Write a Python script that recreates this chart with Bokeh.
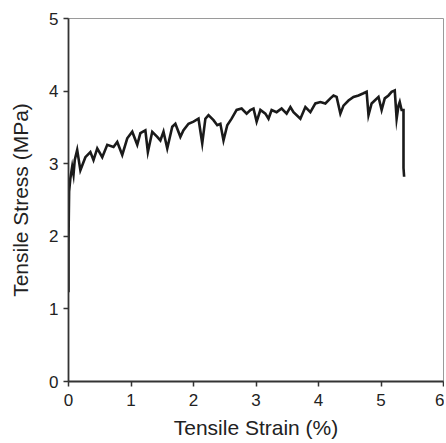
from bokeh.plotting import figure
from bokeh.models import Range1d, FixedTicker
from bokeh.embed import file_html
from bokeh.resources import INLINE

# Tensile strain (%) and tensile stress (MPa)
strain = [0.0, 0.0, 0.005, 0.01, 0.03, 0.059, 0.08, 0.10, 0.139, 0.19, 0.27, 0.35, 0.40,
          0.46, 0.54, 0.62, 0.72, 0.78, 0.86, 0.94, 1.02, 1.10, 1.15, 1.23, 1.27,
          1.34, 1.42, 1.47, 1.52, 1.58, 1.66, 1.71, 1.79, 1.84, 1.92, 2.00, 2.08,
          2.14, 2.19, 2.24, 2.32, 2.38, 2.43, 2.48, 2.54, 2.61, 2.69, 2.77, 2.85,
          2.91, 2.96, 3.01, 3.07, 3.15, 3.20, 3.25, 3.33, 3.41, 3.49, 3.55, 3.60,
          3.71, 3.79, 3.87, 3.95, 4.03, 4.11, 4.19, 4.24, 4.29, 4.35, 4.40, 4.48,
          4.56, 4.64, 4.72, 4.77, 4.80, 4.85, 4.90, 4.96, 5.01, 5.06, 5.12, 5.17,
          5.22, 5.25, 5.28, 5.30, 5.33, 5.36, 5.36, 5.37]
stress = [1.23, 1.90, 2.30, 2.62, 2.80, 2.96, 2.85, 3.05, 3.19, 2.91, 3.09, 3.16, 3.05,
          3.21, 3.09, 3.26, 3.23, 3.30, 3.12, 3.35, 3.44, 3.26, 3.42, 3.46, 3.16,
          3.44, 3.37, 3.32, 3.44, 3.21, 3.51, 3.55, 3.37, 3.46, 3.55, 3.58, 3.62,
          3.28, 3.62, 3.67, 3.60, 3.53, 3.55, 3.32, 3.53, 3.62, 3.74, 3.76, 3.69,
          3.74, 3.76, 3.58, 3.74, 3.69, 3.62, 3.74, 3.71, 3.76, 3.69, 3.78, 3.71,
          3.62, 3.78, 3.71, 3.83, 3.85, 3.83, 3.90, 3.94, 3.92, 3.69, 3.80, 3.87,
          3.92, 3.94, 3.97, 3.99, 3.67, 3.83, 3.87, 3.92, 3.74, 3.90, 3.94, 3.99,
          4.01, 3.62, 3.80, 3.85, 3.74, 3.74, 2.94, 2.82]

x_ticks = [0, 1, 2, 3, 4, 5, 6]
y_ticks = [0, 1, 2, 3, 4, 5]

p = figure(width=444, height=441, output_backend="svg", toolbar_location=None,
           x_range=Range1d(0, 6), y_range=Range1d(0, 5),
           min_border_left=68, min_border_right=1, min_border_top=18, min_border_bottom=59)

p.line(strain, stress, line_color="#1a1a1a", line_width=2.6, line_join="miter")

p.xgrid.visible = False
p.ygrid.visible = False
p.outline_line_color = "#9a9a9a"
p.outline_line_width = 1

for ax in (p.xaxis[0], p.yaxis[0]):
    ax.axis_line_color = "#333333"
    ax.axis_line_width = 1.8
    ax.major_tick_line_color = "#333333"
    ax.major_tick_line_width = 1.5
    ax.major_tick_out = 5
    ax.major_tick_in = 0
    ax.minor_tick_line_color = None
    ax.major_label_text_font = "Liberation Sans"
    ax.major_label_text_font_size = "17px"
    ax.major_label_text_color = "#222222"
    ax.axis_label_text_font = "Liberation Sans"
    ax.axis_label_text_font_size = "21px"
    ax.axis_label_text_font_style = "normal"
    ax.axis_label_text_color = "#222222"

p.xaxis[0].ticker = FixedTicker(ticks=x_ticks)
p.yaxis[0].ticker = FixedTicker(ticks=y_ticks)
p.xaxis[0].axis_label = "Tensile Strain (%)"
p.yaxis[0].axis_label = "Tensile Stress (MPa)"
p.xaxis[0].major_label_standoff = 7
p.xaxis[0].axis_label_standoff = 7
p.yaxis[0].major_label_standoff = 5
p.yaxis[0].axis_label_standoff = 14

open("out.html", "w").write(file_html(p, INLINE))
